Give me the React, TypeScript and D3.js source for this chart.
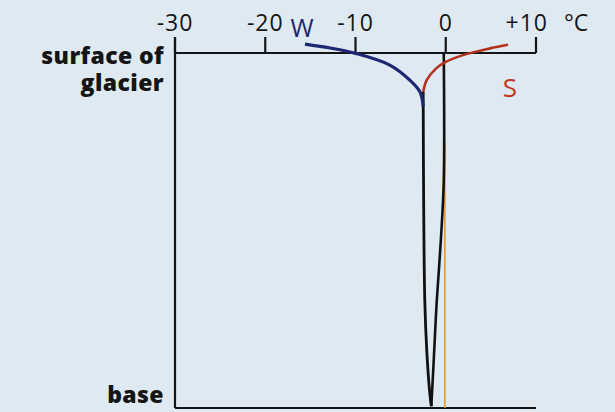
import * as d3 from 'd3';

// temperature (°C) vs relative depth (0 = surface, 1 = base)
const tempTicks = [-30, -20, -10, 0, 10];
const tickLabels = ['-30', '-20', '-10', '0', '+10'];

const winter = [
	[-15.6, -0.025], [-12.8, -0.014], [-10.0, 0.001], [-6.2, 0.034],
	[-4.0, 0.076], [-2.85, 0.11], [-2.5, 0.15],
];
const summer = [
	[6.9, -0.023], [4.9, -0.013], [1.9, 0.006], [0.0, 0.025],
	[-1.0, 0.042], [-2.1, 0.076], [-2.5, 0.11],
];
const coldBranch = [
	[-2.5, 0.11], [-2.45, 0.41], [-2.32, 0.7], [-2.1, 0.84], [-1.8, 0.95], [-1.6, 0.995],
];
const meltBranch = [
	[-0.22, 0], [-0.22, 0.36], [-0.55, 0.53], [-1.0, 0.7], [-1.33, 0.865], [-1.6, 0.995],
];
const zeroLine = [[-0.1, 0.25], [-0.1, 1]];

const W = 615, H = 412;
const font = '"Open Sans", "DejaVu Sans", sans-serif';

export default function App() {
	const x = d3.scaleLinear().domain([-30, 10]).range([175, 536]);
	const y = d3.scaleLinear().domain([0, 1]).range([53, 408]);

	const line = d3.line<number[]>()
		.x(d => x(d[0]))
		.y(d => y(d[1]))
		.curve(d3.curveCatmullRom);

	return (
		<svg width={W} height={H} style={{ position: 'absolute', left: 0, top: 0 }} fontFamily={font}>
			<rect width={W} height={H} fill='#dfe9f1' />

			{/* axes */}
			<line x1={x(-30)} x2={x(10)} y1={y(0)} y2={y(0)} stroke='#151515' strokeWidth={2.2} />
			<line x1={x(-30)} x2={x(10)} y1={y(1)} y2={y(1)} stroke='#151515' strokeWidth={2.2} />
			<line x1={x(-30)} x2={x(-30)} y1={y(0) - 16} y2={y(1)} stroke='#151515' strokeWidth={2.2} />
			{tempTicks.map((t, i) => (
				<g key={t}>
					<line x1={x(t)} x2={x(t)} y1={y(0) - 16} y2={y(0)} stroke='#151515' strokeWidth={2.2} />
					<text
						x={t === 10 ? x(t) + 12 : x(t)}
						y={31}
						textAnchor={t === 10 ? 'end' : 'middle'}
						fontSize={23}
						letterSpacing={1}
						fill='#151515'
					>{tickLabels[i]}</text>
				</g>
			))}
			<text x={564} y={31} fontSize={23} fill='#151515'>°C</text>

			{/* depth labels */}
			<text x={164} y={64} textAnchor='end' fontSize={23} fontWeight={800} letterSpacing={0.4} fill='#151515'>surface of</text>
			<text x={164} y={91} textAnchor='end' fontSize={23} fontWeight={800} letterSpacing={0.4} fill='#151515'>glacier</text>
			<text x={164} y={403} textAnchor='end' fontSize={23} fontWeight={800} letterSpacing={0.4} fill='#151515'>base</text>

			{/* profiles */}
			<path d={line(zeroLine)!} fill='none' stroke='#e49a2c' strokeWidth={1.6} />
			<path d={line(meltBranch)!} fill='none' stroke='#111' strokeWidth={2.6} />
			<path d={line(coldBranch)!} fill='none' stroke='#111' strokeWidth={2.8} />
			<path d={line(winter)!} fill='none' stroke='#1d2770' strokeWidth={3.2} />
			<path d={line(summer)!} fill='none' stroke='#b3301c' strokeWidth={2.6} />

			<text x={302} y={37} textAnchor='middle' fontSize={25} fill='#1d2770'>W</text>
			<text x={510} y={97} textAnchor='middle' fontSize={26} fill='#c0361f'>S</text>
		</svg>
	);
}
